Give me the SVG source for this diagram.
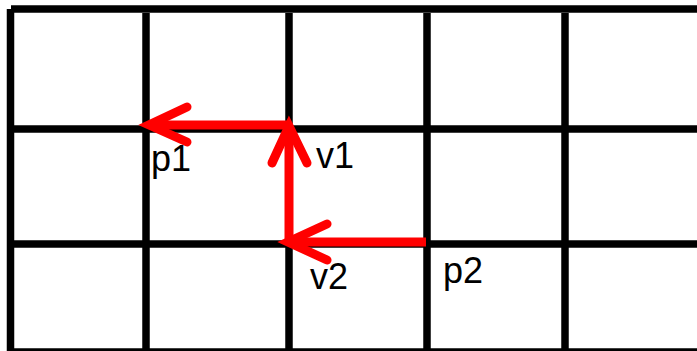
<svg xmlns="http://www.w3.org/2000/svg" width="697" height="351" viewBox="0 0 697 351">
<style>
.g{stroke:#000;stroke-width:7.5;fill:none}
.a{stroke:#ff0000;stroke-width:9;fill:none}
.h{stroke:#ff0000;stroke-width:9;fill:none;stroke-linecap:round;stroke-linejoin:miter}
.t{font-family:"Liberation Sans",Arial,sans-serif;font-size:36px;fill:#000}
</style>
<rect width="697" height="351" fill="#fff"/>
<g id="grid">
<line class="g" x1="11" y1="9" x2="697" y2="9"/>
<line class="g" x1="11" y1="129" x2="697" y2="129"/>
<line class="g" x1="11" y1="244" x2="697" y2="244"/>
<line class="g" x1="11" y1="352" x2="697" y2="352"/>
<line class="g" x1="10.5" y1="9" x2="10.5" y2="351"/>
<line class="g" x1="146" y1="13" x2="146" y2="351"/>
<line class="g" x1="289" y1="13" x2="289" y2="351"/>
<line class="g" x1="427" y1="13" x2="427" y2="351"/>
<line class="g" x1="565" y1="13" x2="565" y2="351"/>
</g>
<g id="connectors">
<g id="v1-p1">
<line class="a" x1="289" y1="125" x2="151" y2="125"/>
<polyline class="h" points="187,107 149,125 187,142"/>
</g>
<g id="v2-v1">
<line class="a" x1="289" y1="242" x2="289" y2="128"/>
<polyline class="h" points="272,163 289,126 307,163"/>
</g>
<g id="p2-v2">
<line class="a" x1="426" y1="242" x2="290" y2="242"/>
<polyline class="h" points="327,224 288,242 327,260"/>
</g>
</g>
<g id="p1"><text class="t" x="151" y="171">p1</text></g>
<g id="v1"><text class="t" x="316" y="168">v1</text></g>
<g id="v2"><text class="t" x="310" y="289">v2</text></g>
<g id="p2"><text class="t" x="443" y="283">p2</text></g>
</svg>
